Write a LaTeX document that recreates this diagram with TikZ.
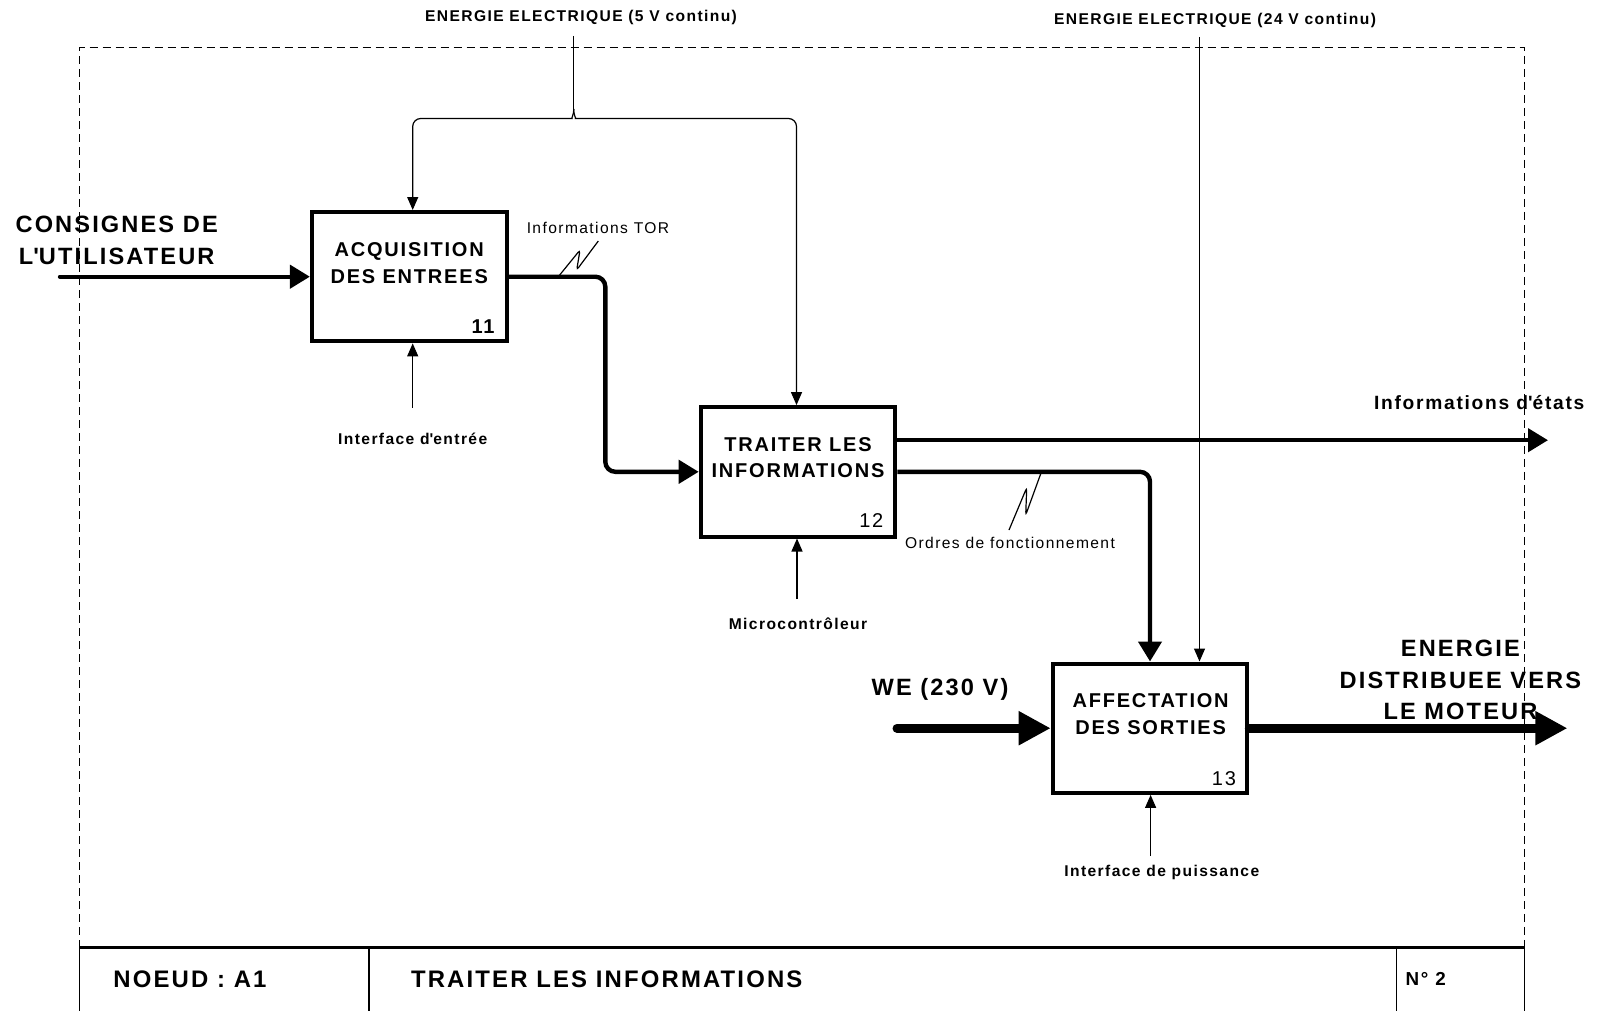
\documentclass[tikz,border=0pt]{standalone}
\usepackage{fontspec}
\setmainfont{Liberation Sans}[LetterSpace=9]
\usetikzlibrary{arrows.meta,calc}

\begin{document}
\begin{tikzpicture}[x=0.5pt,y=-0.5pt,
  blk/.style={draw, line width=2pt, minimum width=97.3pt, minimum height=64.7pt, inner sep=0pt},
  blktxt/.style={align=center, inner sep=0pt, font=\fontsize{10}{13.25}\selectfont\bfseries},
  num/.style={inner sep=0pt, font=\fontsize{10}{12}\selectfont},
  fineline/.style={line width=0.6pt},
  finearrow/.style={fineline, -{Triangle[length=6.5pt,width=5.5pt]}},
  flow/.style={line width=2.2pt, rounded corners=5pt, -{Triangle[length=10pt,width=11.5pt]}},
  power/.style={line width=4.5pt, line cap=round, -{Triangle[length=16pt,width=16pt]}},
  toplbl/.style={inner sep=0pt, font=\fontsize{7.8}{9}\selectfont\bfseries},
  sublbl/.style={inner sep=0pt, font=\fontsize{7.8}{9}\selectfont\bfseries},
  notelbl/.style={inner sep=0pt, font=\fontsize{7.8}{9}\selectfont},
  biglbl/.style={align=center, inner sep=0pt, font=\fontsize{11.8}{15.9}\selectfont\bfseries},
  titletxt/.style={anchor=west, inner sep=0pt, font=\fontsize{11.95}{14}\selectfont\bfseries},
  frameline/.style={line width=0.6pt, dash pattern=on 4pt off 2.5pt},
]
\useasboundingbox (0,0) rectangle (1598,1011);

% outer dashed frame and title block
\draw[frameline] (79.5,947.8) -- (79.5,47.9) -- (1524.6,47.9) -- (1524.6,947.8);
\draw[line width=1.6pt] (79.5,947.8) -- (1524.6,947.8);
\draw[fineline] (79.5,947.8) -- (79.5,1011)
                (368.9,947.8) -- (368.9,1011)
                (1396.2,947.8) -- (1396.2,1011)
                (1524.6,947.8) -- (1524.6,1011);
\node[titletxt] (noeud) at (113,979.4) {NOEUD : A1};
\node[titletxt] (titre) at (410.7,979.4) {TRAITER LES INFORMATIONS};
\node[titletxt, font=\fontsize{9.4}{11}\selectfont\bfseries] (page) at (1405.3,979.4) {N° 2};

% activity blocks
\node[blk] (b11) at (409.2,276.7) {};
\node[blktxt] (t11) at (409.2,263) {ACQUISITION\\DES ENTREES};
\node[num, font=\fontsize{10}{12}\selectfont\bfseries] (n11) at (483,327) {11};

\node[blk] (b12) at (798,471.8) {};
\node[blktxt] (t12) at (798,457.5) {TRAITER LES\\INFORMATIONS};
\node[num] (n12) at (871.3,520.8) {12};

\node[blk] (b13) at (1150,728.2) {};
\node[blktxt] (t13) at (1150.6,714.3) {AFFECTATION\\DES SORTIES};
\node[num] (n13) at (1224,778.6) {13};

% 5 V supply, split to blocks 11 and 12
\node[toplbl] (e5) at (581,17.3) {ENERGIE ELECTRIQUE (5 V continu)};
\coordinate (f5) at (573.7,36);
\coordinate (j5) at (573.7,109);
\coordinate (k11) at (412.7,118.5);
\coordinate (k12) at (796.5,118.5);
\draw[fineline] (f5) -- (j5);
\draw[finearrow, rounded corners=4pt] (j5) .. controls (573.7,116) and (571,118.5) .. (564,118.5) -- (k11) -- (k11 |- b11.north);
\draw[finearrow, rounded corners=4pt] (j5) .. controls (573.7,116) and (576.4,118.5) .. (583.4,118.5) -- (k12) -- (k12 |- b12.north);

% 24 V supply to block 13
\node[toplbl] (e24) at (1215,20.4) {ENERGIE ELECTRIQUE (24 V continu)};
\coordinate (f24) at (1199.5,37);
\draw[finearrow] (f24) -- (f24 |- b13.north);

% user input
\node[biglbl] (cons) at (116.7,240) {CONSIGNES DE\\L\textquotesingle UTILISATEUR};
\coordinate (cin) at (60,276.7);
\draw[flow, line cap=round] (cin) -- (b11.west);

% block 11 to block 12
\coordinate (k1) at (605.3,0);
\draw[flow] (b11.east) -- (b11.east -| k1) -- (b12.west -| k1) -- (b12.west);
\node[notelbl] (tor) at (598,228) {Informations TOR};
\draw[fineline, rounded corners=1.5pt] (558.3,276.7) -- (580,250) -- (576.7,270) -- (598.3,241);

% block 12 outputs
\node[font=\fontsize{9.6}{11}\selectfont\bfseries, inner sep=0pt] (etat) at (1479.2,402.5) {Informations d\textquotesingle états};
\coordinate (etip) at (1548,440.2);
\draw[flow] ([yshift=15.8pt]b12.east) -- (etip);
\draw[flow] (b12.east) -- (b12.east -| b13.north) -- (b13.north);
\node[notelbl] (ord) at (1010,543.2) {Ordres de fonctionnement};
\draw[fineline, rounded corners=1.5pt] (1041,473) -- (1025.7,515) -- (1026.7,487.7) -- (1009,530);

% mechanisms under the blocks
\node[sublbl] (m11) at (412.7,439.2) {Interface d\textquotesingle entrée};
\coordinate (s11) at (412.7,407.6);
\draw[finearrow] (s11) -- (s11 |- b11.south);
\node[sublbl] (m12) at (798,623.7) {Microcontrôleur};
\coordinate (s12) at (797,599);
\draw[finearrow] (s12) -- (s12 |- b12.south);
\node[sublbl] (m13) at (1161.8,872.4) {Interface de puissance};
\coordinate (s13) at (1150.6,856);
\draw[finearrow] (s13) -- (s13 |- b13.south);

% power input and output of block 13
\node[biglbl] (we) at (940,689) {WE (230 V)};
\coordinate (wein) at (897,728.2);
\draw[power] (wein) -- (b13.west);
\node[biglbl] (moteur) at (1460.4,680) {ENERGIE\\DISTRIBUEE VERS\\LE MOTEUR};
\coordinate (mout) at (1567.4,728.2);
\draw[power] (b13.east) -- (mout);
\end{tikzpicture}
\end{document}
